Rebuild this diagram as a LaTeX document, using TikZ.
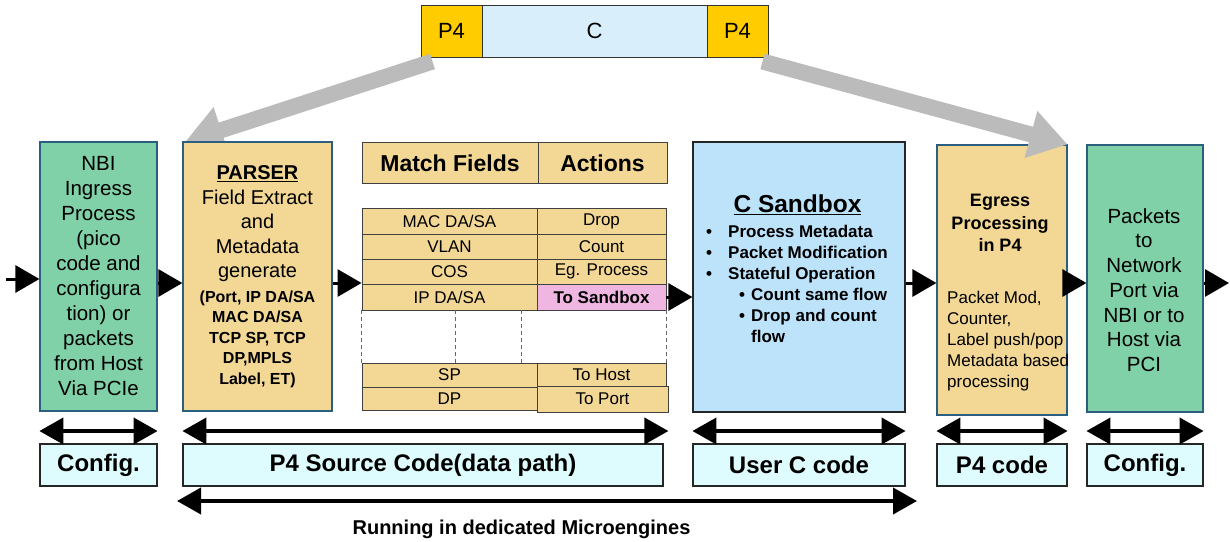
\documentclass[tikz,border=0pt]{standalone}
\usepackage{fontspec}
\setmainfont{Liberation Sans}
\usetikzlibrary{arrows.meta}
\definecolor{nbigreen}{HTML}{80D0A8}
\definecolor{ptan}{HTML}{F2D795}
\definecolor{sbblue}{HTML}{BDE3FB}
\definecolor{cblue}{HTML}{D8EEFB}
\definecolor{pgold}{HTML}{FFCC00}
\definecolor{cfgcyan}{HTML}{DEFCFD}
\definecolor{sbpink}{HTML}{F0B6E2}
\definecolor{bordblue}{HTML}{2B5F80}
\definecolor{garrow}{HTML}{BBBBBB}
\newcommand\myfs[2]{\fontsize{#1}{#2}\selectfont}
\begin{document}
\begin{tikzpicture}[x=1pt,y=-1pt,
  bigbox/.style={draw=bordblue, line width=1.2pt, inner sep=0pt, align=center},
  cell/.style={draw=black!75, line width=0.9pt, fill=ptan, inner sep=0pt, font=\myfs{17}{20}},
  hcell/.style={draw=black!75, line width=1pt, fill=ptan, inner sep=0pt, minimum height=41pt, font=\bfseries\myfs{23}{26}},
  cfg/.style={draw=black!85, line width=1.2pt, fill=cfgcyan, inner sep=0pt, minimum height=42pt, font=\bfseries\myfs{24}{28}},
  topcell/.style={draw=black!80, line width=1pt, inner sep=0pt, minimum height=52pt, font=\myfs{22}{26}},
  txt/.style={inner sep=0pt, align=center},
  flow/.style={-{Triangle[length=24pt,width=27pt]}, line width=3pt},
  dbl/.style={{Triangle[length=24pt,width=26pt]}-{Triangle[length=24pt,width=26pt]}, line width=4pt},
  garr/.style={-{Triangle[length=38pt,width=46pt]}, line width=16pt, draw=garrow},
  dsh/.style={draw=black!60, line width=1pt, dash pattern=on 4pt off 3pt}
]
\useasboundingbox (0,0) rectangle (1230,541);

% top bar
\node[topcell, fill=pgold, minimum width=61pt] (p4l) at (451.5,31) {P4};
\node[topcell, fill=cblue, minimum width=225pt] (cbar) at (594.5,31) {C};
\node[topcell, fill=pgold, minimum width=61pt] (p4r) at (737.5,31) {P4};

% gray arrows
\draw[garr] ([shift={(12,4)}]p4l.south west) -- ([shift={(2,0)}]183,142) coordinate (gtipl);

% main boxes
\node[bigbox, fill=nbigreen, minimum width=117pt, minimum height=269pt, font=\myfs{20.5}{25}] (nbi) at (98.5,276.5)
 {NBI\\Ingress\\Process\\(pico\\code and\\configura\\tion) or\\packets\\from Host\\Via PCIe};
\node[bigbox, fill=ptan, minimum width=149pt, minimum height=269pt] (parser) at (257.5,276.5) {};
\node[txt, font=\myfs{20}{24.5}] (partop) at (257.5,224) {\underline{\textbf{PARSER}}\\Field Extract\\and\\Metadata\\generate};
\node[txt, font=\bfseries\myfs{16}{20.5}] (parbot) at (257.5,339) {(Port, IP DA/SA\\MAC DA/SA\\TCP SP, TCP\\DP,MPLS\\Label, ET)};

\node[bigbox, draw=black!85, fill=sbblue, minimum width=212pt, minimum height=270pt] (sandbox) at (799,277) {};
\node[txt, font=\bfseries\myfs{24.5}{28}] (sbtitle) at (797.5,205) {\underline{C Sandbox}};
\node[inner sep=0pt, align=left, anchor=north west, font=\bfseries\myfs{17}{21}] (sblist) at (706,225)
 {\makebox[22pt][l]{\textbullet}Process Metadata\\
  \makebox[22pt][l]{\textbullet}Packet Modification\\
  \makebox[22pt][l]{\textbullet}Stateful Operation\\
  \hspace*{33pt}\makebox[12pt][l]{\textbullet}Count same flow\\
  \hspace*{33pt}\makebox[12pt][l]{\textbullet}Drop and count\\
  \hspace*{45pt}flow};

\node[bigbox, fill=ptan, minimum width=130pt, minimum height=270pt] (egress) at (1002,280) {};
\node[txt, font=\bfseries\myfs{18}{22.5}] (egtitle) at (1000,223) {Egress\\Processing\\in P4};
\node[inner sep=0pt, align=left, anchor=north west, font=\myfs{17}{21}] (egbody) at (947,291)
 {Packet Mod,\\Counter,\\Label push/pop\\Metadata based\\processing};

\node[bigbox, fill=nbigreen, minimum width=116pt, minimum height=267pt] (packets) at (1145,278.5) {};
\node[txt, font=\myfs{20.5}{24.7}] (pktxt) at (1144,290) {Packets\\to\\Network\\Port via\\NBI or to\\Host via\\PCI};

\draw[garr] ([shift={(-6,4)}]p4r.south east) -- (egress.north east);

% table
\node[hcell, minimum width=176pt] (mf) at (450,163) {Match Fields};
\node[hcell, minimum width=129pt] (act) at (602.5,163) {Actions};
\node[cell, minimum width=175pt, minimum height=26pt] (mac) at (449.5,221) {MAC DA/SA};
\node[cell, minimum width=129pt, minimum height=26pt] (drop) at (601.5,221) {Drop};
\node[cell, minimum width=175pt, minimum height=25pt] (vlan) at (449.5,246.5) {VLAN};
\node[cell, minimum width=129pt, minimum height=25pt] (count) at (601.5,246.5) {Count};
\node[cell, minimum width=175pt, minimum height=25pt] (cos) at (449.5,271.5) {COS};
\node[cell, minimum width=129pt, minimum height=25pt] (egp) at (601.5,271.5) {Eg. Process};
\node[cell, minimum width=175pt, minimum height=26pt] (ipda) at (449.5,297) {IP DA/SA};
\node[cell, fill=sbpink, minimum width=129pt, minimum height=26pt, font=\bfseries\myfs{17}{20}] (tosb) at (601.5,297) {To Sandbox};
\node[cell, minimum width=175pt, minimum height=24pt] (sp) at (449.5,375) {SP};
\node[cell, minimum width=175pt, minimum height=23pt] (dp) at (449.5,398.5) {DP};
\node[cell, minimum width=129pt, minimum height=23pt] (tohost) at (601.5,374.5) {To Host};
\node[cell, minimum width=131pt, minimum height=26pt] (topo) at (602.5,399) {To Port};
\draw[dsh] (ipda.south west) -- (sp.north west);
\draw[dsh] (455,310) -- (455,363);
\draw[dsh] (521,310) -- (521,363);
\draw[dsh] (tosb.south east) -- (tohost.north east);

% flow arrows
\coordinate (rowy) at (0,283);
\coordinate (inL) at (6,279);
\coordinate (outR) at (1229,283);
\draw[flow] (inL) -- (inL -| nbi.west);
\draw[flow] (nbi.east |- rowy) -- (parser.west |- rowy);
\draw[flow] (parser.east |- rowy) -- (cos.west |- rowy);
\draw[flow] (tosb.east) -- (tosb.east -| sandbox.west);
\draw[flow] (sandbox.east |- rowy) -- (egress.west |- rowy);
\draw[flow] (egress.east |- rowy) -- (packets.west |- rowy);
\draw[flow] (packets.east |- rowy) -- (outR);

% bottom config boxes
\node[cfg, minimum width=117pt] (cfg1) at (98.5,465) {Config.};
\node[cfg, minimum width=480pt] (p4src) at (423,465) {P4 Source Code(data path)};
\node[cfg, minimum width=212pt] (userc) at (799,465) {User C code};
\node[cfg, minimum width=130pt] (p4code) at (1002,465) {P4 code};
\node[cfg, minimum width=116pt] (cfg2) at (1145,465) {Config.};

\coordinate (ay) at (0,431);
\draw[dbl] (nbi.west |- ay) -- (nbi.east |- ay);
\draw[dbl] (parser.west |- ay) -- (topo.east |- ay);
\draw[dbl] (sandbox.west |- ay) -- (sandbox.east |- ay);
\draw[dbl] (egress.west |- ay) -- (egress.east |- ay);
\draw[dbl] (packets.west |- ay) -- (packets.east |- ay);

\coordinate (ra) at (177,501);
\coordinate (rb) at (917,501);
\draw[dbl] (ra) -- (rb);
\node[txt, font=\bfseries\myfs{20}{24}] (running) at (521.5,529) {Running in dedicated Microengines};
\end{tikzpicture}
\end{document}
